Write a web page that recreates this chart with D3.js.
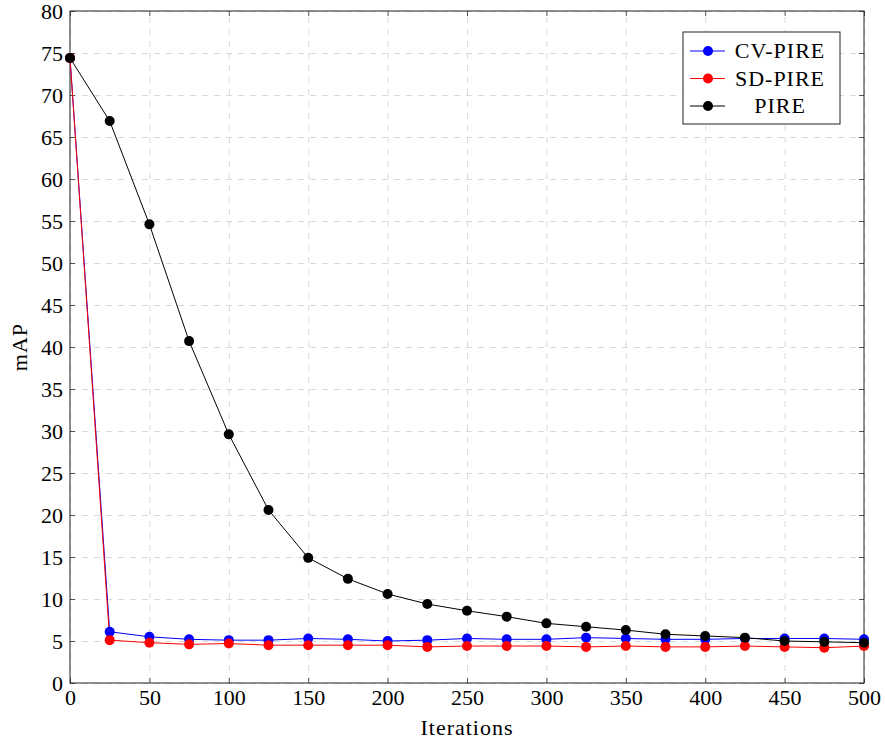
<!DOCTYPE html>
<meta charset="utf-8">
<html>
<head>
<style>
  body { margin: 0; background: #fff; }
  text { font-family: "Liberation Serif", "DejaVu Serif", serif; }
  .grid line { stroke: #d9d9d9; stroke-dasharray: 6,6; }
  .grid path { display: none; }
</style>
</head>
<body>
<script src="https://d3js.org/d3.v7.min.js"></script>
<script>

var iterations = [0,25,50,75,100,125,150,175,200,225,250,275,300,325,350,375,400,425,450,475,500];
var cvPire = [74.4,6.1,5.5,5.2,5.1,5.1,5.3,5.2,5.0,5.1,5.3,5.2,5.2,5.4,5.3,5.2,5.2,5.3,5.3,5.3,5.2];
var sdPire = [74.4,5.1,4.8,4.6,4.7,4.5,4.5,4.5,4.5,4.3,4.4,4.4,4.4,4.3,4.4,4.3,4.3,4.4,4.3,4.2,4.4];
var pire   = [74.4,66.9,54.6,40.7,29.6,20.6,14.9,12.4,10.6,9.4,8.6,7.9,7.1,6.7,6.3,5.8,5.6,5.4,5.0,4.9,4.8];
var xTicks = d3.range(0, 501, 50);
var yTicks = d3.range(0, 81, 5);

var series = [
  {name: "CV-PIRE", values: cvPire, color: "#0000ff"},
  {name: "SD-PIRE", values: sdPire, color: "#ff0000"},
  {name: "PIRE", values: pire, color: "#000000"}
];

var margin = {top: 11, right: 21, bottom: 59, left: 70},
    width = 885 - margin.left - margin.right,
    height = 742 - margin.top - margin.bottom;

var svg = d3.select("body").append("svg")
    .attr("width", 885)
    .attr("height", 742)
  .append("g")
    .attr("transform", "translate(" + margin.left + "," + margin.top + ")");

var x = d3.scaleLinear().domain([0, 500]).range([0, width]);
var y = d3.scaleLinear().domain([0, 80]).range([height, 0]);

// grid
svg.append("g").attr("class", "grid")
    .attr("transform", "translate(0," + height + ")")
    .call(d3.axisBottom(x).tickValues(xTicks).tickSize(-height).tickFormat(""));
svg.append("g").attr("class", "grid")
    .call(d3.axisLeft(y).tickValues(yTicks).tickSize(-width).tickFormat(""));

// axes with inward ticks
function styleAxis(g) {
  g.selectAll("path").remove();
  g.selectAll("line").attr("stroke", "#555");
  g.selectAll("text").style("font-size", "22px").attr("fill", "#000");
}
svg.append("g")
    .attr("transform", "translate(0," + height + ")")
    .call(d3.axisBottom(x).tickValues(xTicks).tickSizeInner(-5).tickSizeOuter(0).tickPadding(6))
    .call(styleAxis);
svg.append("g")
    .call(d3.axisLeft(y).tickValues(yTicks).tickSizeInner(-5).tickSizeOuter(0).tickPadding(7))
    .call(styleAxis);
svg.append("g")
    .call(d3.axisTop(x).tickValues(xTicks).tickSizeInner(-5).tickSizeOuter(0).tickFormat(""))
    .call(styleAxis);
svg.append("g")
    .attr("transform", "translate(" + width + ",0)")
    .call(d3.axisRight(y).tickValues(yTicks).tickSizeInner(-5).tickSizeOuter(0).tickFormat(""))
    .call(styleAxis);

svg.append("rect")
    .attr("width", width).attr("height", height)
    .attr("fill", "none").attr("stroke", "#222").attr("stroke-width", 1);

// lines and markers
var line = d3.line()
    .x(function(d, i) { return x(iterations[i]); })
    .y(function(d) { return y(d); });

series.forEach(function(s) {
  svg.append("path")
      .datum(s.values)
      .attr("fill", "none")
      .attr("stroke", s.color)
      .attr("stroke-width", 1)
      .attr("d", line);
});
series.forEach(function(s) {
  svg.selectAll(null)
      .data(s.values)
      .enter().append("circle")
      .attr("cx", function(d, i) { return x(iterations[i]); })
      .attr("cy", function(d) { return y(d); })
      .attr("r", 5)
      .attr("fill", s.color);
});

// axis labels
svg.append("text")
    .text("Iterations")
    .attr("x", width / 2)
    .attr("y", height + 52)
    .style("text-anchor", "middle")
    .style("font-size", "22px")
    .style("letter-spacing", "1px");
svg.append("text")
    .text("mAP")
    .attr("transform", "rotate(-90)")
    .attr("x", -height / 2)
    .attr("y", -43)
    .style("text-anchor", "middle")
    .style("font-size", "22px")
    .style("letter-spacing", "1px");

// legend
var legend = svg.append("g")
    .attr("transform", "translate(" + (683 - margin.left) + "," + (32 - margin.top) + ")");
legend.append("rect")
    .attr("width", 157).attr("height", 92)
    .attr("fill", "#fff").attr("stroke", "#222");
var item = legend.selectAll(".legend")
    .data(series)
    .enter().append("g")
    .attr("class", "legend")
    .attr("transform", function(d, i) { return "translate(0," + (19 + i * 27.5) + ")"; });
item.append("line")
    .attr("x1", 7).attr("x2", 42)
    .attr("stroke", function(d) { return d.color; });
item.append("circle")
    .attr("cx", 25).attr("r", 5)
    .attr("fill", function(d) { return d.color; });
item.append("text")
    .attr("x", 97)
    .attr("dy", "0.33em")
    .style("text-anchor", "middle")
    .style("font-size", "22px")
    .style("letter-spacing", "1px")
    .text(function(d) { return d.name; });

</script>
</body>
</html>
